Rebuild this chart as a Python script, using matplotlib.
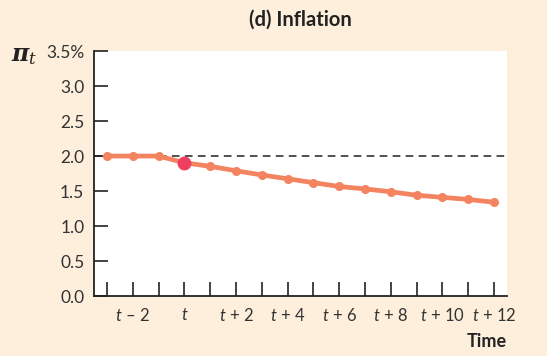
import matplotlib
matplotlib.use("Agg")
import matplotlib.pyplot as plt

plt.rcParams['font.family'] = ['Lato', 'DejaVu Sans']
plt.rcParams['mathtext.fontset'] = 'custom'
plt.rcParams['mathtext.rm'] = 'Lato'
plt.rcParams['mathtext.it'] = 'Lato:italic'

periods = [-3, -2, -1, 0, 1, 2, 3, 4, 5, 6, 7, 8, 9, 10, 11, 12]
inflation = [2.0, 2.0, 2.0, 1.905, 1.853, 1.79, 1.73, 1.675, 1.62, 1.565, 1.53, 1.49, 1.44, 1.41, 1.38, 1.34]
shock_period = 0
shock_value = 1.905
target = 2.0
ytick_vals = [0.0, 0.5, 1.0, 1.5, 2.0, 2.5, 3.0, 3.5]
ytick_labels = ['0.0', '0.5', '1.0', '1.5', '2.0', '2.5', '3.0', '3.5%']
xtick_labels = {-2: '$t$ – 2', 0: '$t$', 2: '$t$ + 2', 4: '$t$ + 4', 6: '$t$ + 6',
                8: '$t$ + 8', 10: '$t$ + 10', 12: '$t$ + 12'}

bg = '#FDEFDC'
fig = plt.figure(figsize=(5.47, 3.56), dpi=100, facecolor=bg)
ax = fig.add_axes([0.1718, 0.1685, 0.755, 0.688])
ax.set_facecolor('white')

ax.axhline(target, color='#222222', lw=1.1, ls=(0, (5, 3.5)), zorder=1)
ax.plot(periods, inflation, color='#F4845F', lw=3.4, marker='o', ms=5.5,
        solid_capstyle='round', zorder=3)
ax.plot([shock_period], [shock_value], 'o', color='#EE3F5E', ms=9, zorder=4)

ax.set_xlim(-3.5, 12.5)
ax.set_ylim(0, 3.5)

for s in ['top', 'right']:
    ax.spines[s].set_visible(False)
for s in ['left', 'bottom']:
    ax.spines[s].set_color('#222222')
    ax.spines[s].set_linewidth(1.3)

ax.set_yticks(ytick_vals)
ax.set_yticklabels(ytick_labels)
ax.set_xticks(periods)
ax.set_xticklabels([xtick_labels.get(p, '') for p in periods])
ax.tick_params(axis='y', direction='in', length=10, width=1.2, color='#222222',
               labelsize=12.5, labelcolor='#333333', pad=7)
ax.tick_params(axis='x', direction='in', length=10, width=1.2, color='#222222',
               labelsize=12, labelcolor='#333333', pad=8)

fig.text(0.55, 0.945, '(d) Inflation', ha='center', va='center',
         fontsize=14.5, fontweight='bold', color='#222222')
fig.text(0.927, 0.04, 'Time', ha='right', va='center',
         fontsize=13, fontweight='bold', color='#222222')
fig.text(0.02, 0.84, r'$\boldsymbol{\pi}_t$', ha='left', va='center', fontsize=17,
         color='#222222', math_fontfamily='dejavuserif')

fig.savefig('out.png', dpi=100, facecolor=bg)
